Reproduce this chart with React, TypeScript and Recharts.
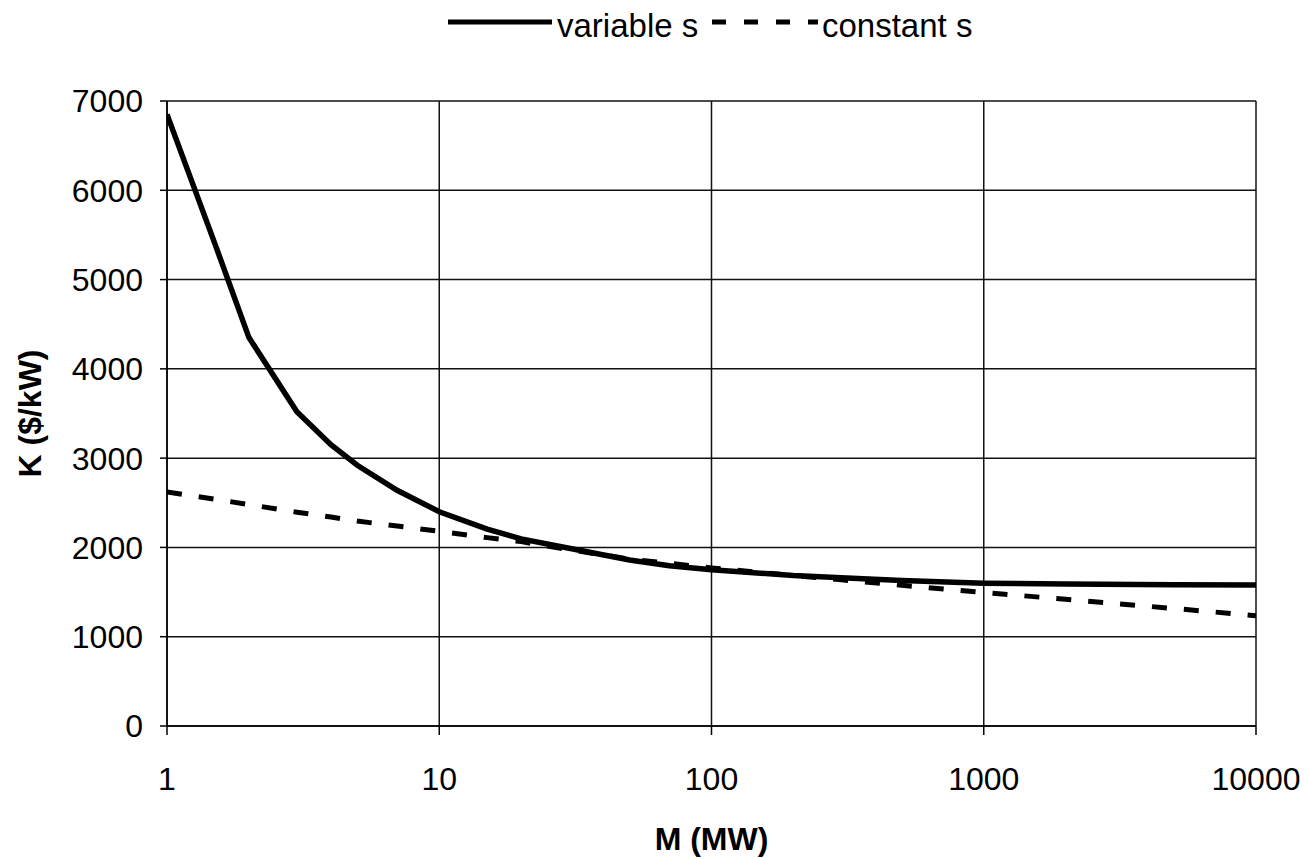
import React from 'react';
import { LineChart, Line, XAxis, YAxis, CartesianGrid } from 'recharts';

const massMW = [1, 1.5, 2, 3, 4, 5, 7, 10, 15, 20, 30, 50, 70, 100, 200, 300, 500, 1000, 2000, 5000, 10000];
const variableS = [6850, 5400, 4350, 3520, 3150, 2920, 2640, 2400, 2205, 2095, 1990, 1860, 1795, 1750, 1685, 1660, 1630, 1600, 1590, 1582, 1578];
const constantS = [2620, 2540, 2480, 2395, 2340, 2295, 2240, 2180, 2110, 2065, 1975, 1870, 1822, 1770, 1686, 1637, 1576, 1495, 1419, 1316, 1236];
const xTicks = [1, 10, 100, 1000, 10000];
const yTicks = [0, 1000, 2000, 3000, 4000, 5000, 6000, 7000];
const seriesNames = ['variable s', 'constant s'];

const data = massMW.map((m, i) => ({ m, variable: variableS[i], constant: constantS[i] }));

const FONT = '"Liberation Sans", Arial, Helvetica, sans-serif';

export default function App() {
  return (
    <div style={{ position: 'relative', width: 1300, height: 850, fontFamily: FONT, background: '#fff' }}>
      <LineChart width={1300} height={850} data={data} margin={{ top: 93, right: 52, bottom: 0, left: 0 }}>
        <CartesianGrid stroke="#111" strokeWidth={1.5} />
        <XAxis
          dataKey="m"
          type="number"
          scale="log"
          domain={[1, 10000]}
          ticks={xTicks}
          allowDataOverflow
          height={132}
          tickSize={9}
          tickMargin={32}
          tick={{ fill: '#000', fontSize: 32, fontFamily: FONT }}
          axisLine={{ stroke: '#000', strokeWidth: 1.5 }}
          tickLine={{ stroke: '#000', strokeWidth: 1.5 }}
          label={{ value: 'M (MW)', position: 'insideBottom', offset: 8, style: { fontSize: 32, fontWeight: 'bold', fill: '#000', fontFamily: FONT } }}
        />
        <YAxis
          type="number"
          domain={[0, 7000]}
          ticks={yTicks}
          width={159}
          tickSize={7}
          tickMargin={17}
          tick={{ fill: '#000', fontSize: 32, fontFamily: FONT }}
          axisLine={{ stroke: '#000', strokeWidth: 1.5 }}
          tickLine={{ stroke: '#000', strokeWidth: 1.5 }}
          label={{ value: 'K ($/kW)', angle: -90, position: 'insideLeft', offset: 22, style: { textAnchor: 'middle', fontSize: 32, fontWeight: 'bold', fill: '#000', fontFamily: FONT } }}
        />
        <Line dataKey="variable" name={seriesNames[0]} type="linear" stroke="#000" strokeWidth={5.5} dot={false} isAnimationActive={false} />
        <Line dataKey="constant" name={seriesNames[1]} type="linear" stroke="#000" strokeWidth={5} strokeDasharray="15 17" dot={false} isAnimationActive={false} />
      </LineChart>
      <svg width={1300} height={60} style={{ position: 'absolute', left: 0, top: 0, pointerEvents: 'none' }}>
        <line x1={440} x2={544} y1={14} y2={14} stroke="#000" strokeWidth={5} />
        <text x={549} y={29} fontSize={33} fill="#000" style={{ fontFamily: FONT }}>{seriesNames[0]}</text>
        <line x1={704} x2={810} y1={14} y2={14} stroke="#000" strokeWidth={5} strokeDasharray="14 18" />
        <text x={814} y={29} fontSize={33} fill="#000" style={{ fontFamily: FONT }}>{seriesNames[1]}</text>
      </svg>
    </div>
  );
}
